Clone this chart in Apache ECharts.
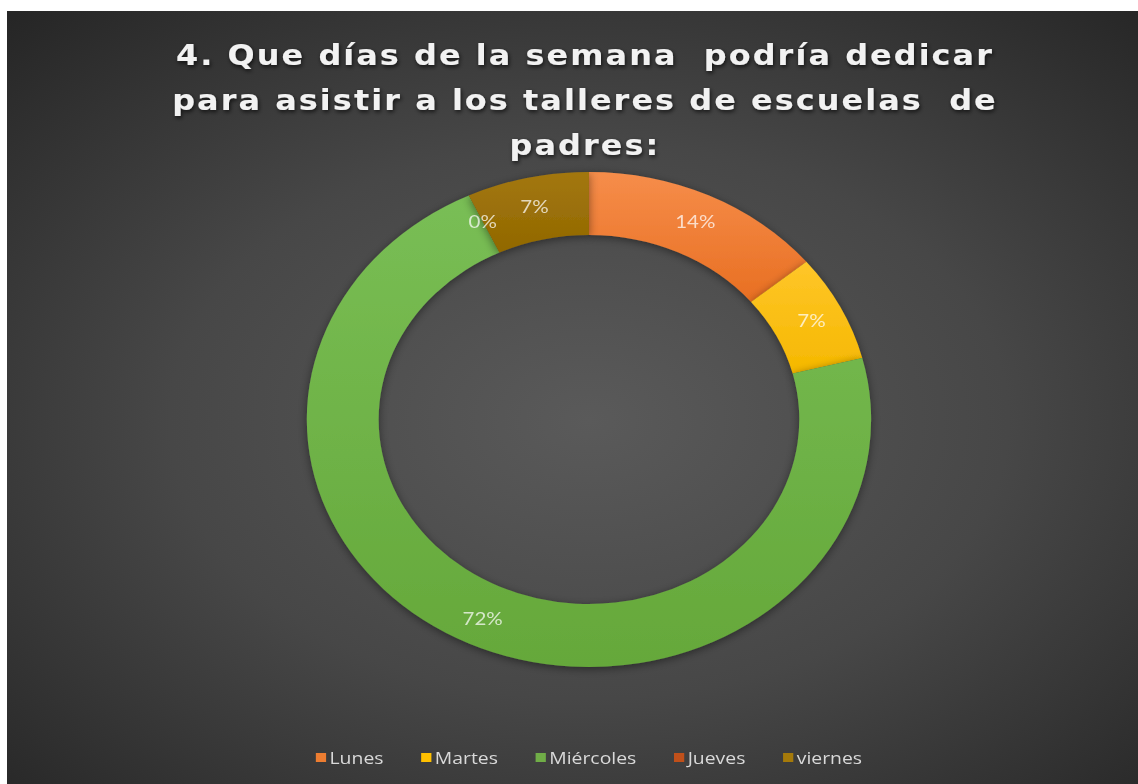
<!DOCTYPE html>
<html>
<head>
<meta charset="utf-8">
<script src="https://cdn.jsdelivr.net/npm/echarts@6/dist/echarts.min.js"></script>
<style>
html,body{margin:0;padding:0;background:#ffffff;width:1138px;height:784px;overflow:hidden;}
#wrap{position:absolute;left:7px;top:11px;width:1131px;height:773px;overflow:hidden;}
#chart{position:absolute;left:0;top:0;width:1021px;height:773px;transform:scaleX(1.14);transform-origin:0 0;}
</style>
</head>
<body>
<div id="wrap"><div id="chart"></div></div>
<script>
const titleLines = ["4. Que días de la semana  podría dedicar", "para asistir a los talleres de escuelas  de", "padres:"];
const categories = ["Lunes", "Martes", "Miércoles", "Jueves", "viernes"];
const values = [14, 7, 72, 0, 7];
const topColors = ["#F68D4A", "#FFC629", "#79BE55", "#C55A11", "#A3770F"];
const bottomColors = ["#E86F22", "#F5B800", "#65A83A", "#B04E0C", "#916800"];
const legendColors = ["#ED7D31", "#FFC000", "#70AD47", "#C0501A", "#A57A0A"];

const chart = echarts.init(document.getElementById('chart'), null, {renderer: 'svg'});
const data = categories.map((c, i) => ({
  name: c,
  value: values[i],
  itemStyle: {
    color: new echarts.graphic.LinearGradient(0, 0, 0, 1, [
      {offset: 0, color: topColors[i]},
      {offset: 1, color: bottomColors[i]}
    ])
  }
}));

function spaceTitle() {
  const texts = document.querySelectorAll('#chart svg text');
  texts.forEach(t => {
    if (titleLines.indexOf(t.textContent) >= 0) {
      t.setAttribute('letter-spacing', '1.8px');
      t.style.letterSpacing = '1.8px';
    }
  });
}
chart.on('finished', spaceTitle);

chart.setOption({
  animation: false,
  backgroundColor: {
    type: 'radial', x: 0.5, y: 0.53, r: 0.72,
    colorStops: [
      {offset: 0, color: '#5a5a5a'},
      {offset: 0.5, color: '#474747'},
      {offset: 1, color: '#262626'}
    ]
  },
  color: legendColors,
  title: {
    text: titleLines.join('\n'),
    left: 502,
    textAlign: 'center',
    top: 17,
    textStyle: {
      fontFamily: 'DejaVu Sans',
      fontWeight: 'bold',
      fontSize: 28,
      lineHeight: 45,
      color: '#f2f2f2',
      textShadowColor: 'rgba(0,0,0,0.7)',
      textShadowBlur: 4,
      textShadowOffsetX: 1,
      textShadowOffsetY: 2
    }
  },
  legend: {
    data: categories.map((c, i) => ({name: c, itemStyle: {color: legendColors[i]}})),
    bottom: 13,
    left: 'center',
    itemWidth: 9,
    itemHeight: 9,
    itemGap: 33,
    icon: 'rect',
    textStyle: {
      fontFamily: 'Open Sans',
      fontSize: 17,
      color: '#d9d9d9',
      padding: [0, 0, 0, -2]
    }
  },
  series: [{
    type: 'pie',
    center: ['50%', 408.5],
    radius: [184.5, 247.5],
    startAngle: 90,
    clockwise: true,
    avoidLabelOverlap: false,
    stillShowZeroSum: true,
    minShowLabelAngle: 0,
    label: {
      show: true,
      position: 'inside',
      formatter: '{c}%',
      fontFamily: 'Lato',
      fontSize: 18,
      color: 'rgba(255,255,255,0.72)'
    },
    labelLine: {show: false},
    itemStyle: {
      shadowBlur: 8,
      shadowColor: 'rgba(0,0,0,0.45)',
      shadowOffsetY: 2
    },
    emphasis: {disabled: true},
    data: data
  }]
});
spaceTitle();
</script>
</body>
</html>
